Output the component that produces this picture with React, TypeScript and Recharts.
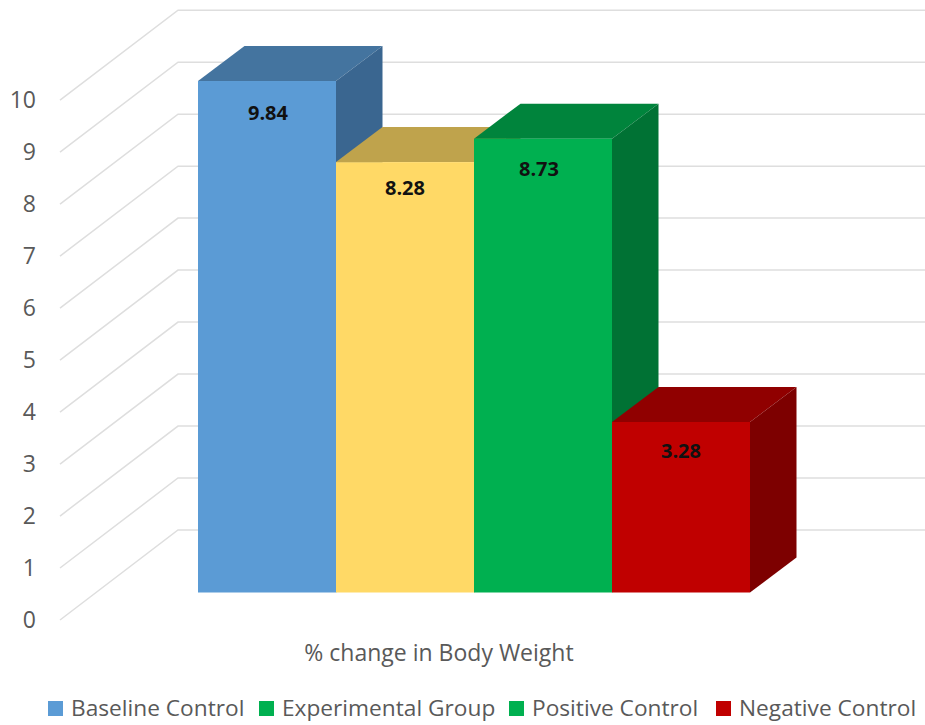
import { Bar, BarChart, CartesianGrid, LabelList, Legend, XAxis, YAxis } from "recharts";

const categoryLabel = "% change in Body Weight";
const seriesKeys = ["baseline", "experimental", "positive", "negative"];
const seriesNames = ["Baseline Control", "Experimental Group", "Positive Control", "Negative Control"];
const seriesValues = [9.84, 8.28, 8.73, 3.28];
const yTicks = [0, 1, 2, 3, 4, 5, 6, 7, 8, 9, 10];

// front, top and side faces of each block
const frontColors = ["#5B9BD5", "#FFD966", "#00B050", "#C00000"];
const topColors = ["#44749F", "#BFA34C", "#00843C", "#900000"];
const sideColors = ["#3A6690", "#A68D42", "#007234", "#7D0000"];
const legendColors = ["#5B9BD5", "#00B050", "#00B050", "#C00000"];

// data labels are not all the same distance below the top edge
const labelDrop = [32, 26, 30, 29];
const labelShift = [1, 0, -4, 0];
const legendLefts = [48, 259, 509, 716];

const FONT = '"Open Sans", sans-serif';
const TEXT = "#595959";
const DEPTH_X = 46.5;
const DEPTH_Y = 35;
const WIDTH = 925;
const HEIGHT = 725;

const row: Record<string, string | number> = { name: categoryLabel };
seriesKeys.forEach((k, i) => {
  row[k] = seriesValues[i];
});
const data = [row];

// extruded block: front rectangle plus top and right faces
function Block({ x, y, width, height, index }: any) {
  const r = x + width;
  const b = y + height;
  const dx = DEPTH_X;
  const dy = DEPTH_Y;
  return (
    <g>
      <polygon points={`${x},${y} ${x + dx},${y - dy} ${r + dx},${y - dy} ${r},${y}`} fill={topColors[index]} />
      <polygon points={`${r},${y} ${r + dx},${y - dy} ${r + dx},${b - dy} ${r},${b}`} fill={sideColors[index]} />
      <rect x={x} y={y} width={width} height={height} fill={frontColors[index]} />
    </g>
  );
}

// wall line: runs up the side wall from the front edge, then across the back wall
function WallLine({ y1 }: any) {
  const pts = `60,${y1 + 27.5} 178,${y1 - 62.5} ${WIDTH},${y1 - 62.5}`;
  return <polyline points={pts} fill="none" stroke="#DEDEDE" strokeWidth={1.5} />;
}

function ValueTick({ y, payload }: any) {
  return (
    <text x={36} y={y + 27.5} dy={8} textAnchor="end" fontFamily={FONT} fontSize={23} fill={TEXT}>
      {payload.value}
    </text>
  );
}

function CategoryTick({ y, payload }: any) {
  return (
    <text x={439} y={y + 60} textAnchor="middle" fontFamily={FONT} fontSize={23} fill={TEXT}>
      {payload.value}
    </text>
  );
}

function LegendRow() {
  return (
    <div style={{ position: "relative", width: WIDTH, height: 30, fontFamily: FONT, fontSize: 22.7, color: TEXT }}>
      {seriesNames.map((name, i) => (
        <div key={name} style={{ position: "absolute", left: legendLefts[i], top: 0, whiteSpace: "nowrap", lineHeight: "28px" }}>
          <span style={{ display: "inline-block", width: 15, height: 15, marginRight: 8, background: legendColors[i] }} />
          {name}
        </div>
      ))}
    </div>
  );
}

function blockLabel(index: number) {
  return ({ x, y, width, value }: any) => (
    <text
      x={x + width / 2 + labelShift[index]}
      y={y + labelDrop[index]}
      dy={7}
      textAnchor="middle"
      fontFamily={FONT}
      fontSize={20}
      fontWeight={700}
      fill="#111"
    >
      {value}
    </text>
  );
}

export default function App() {
  return (
    <div style={{ position: "absolute", left: 0, top: 0, width: WIDTH, height: HEIGHT, background: "#fff" }}>
      <BarChart
        width={WIDTH}
        height={HEIGHT}
        data={data}
        barCategoryGap={0}
        barGap={0}
        margin={{ top: 72.7, right: 176.5, bottom: 92.5, left: 0 }}
      >
        <CartesianGrid vertical={false} horizontal={(p: any) => <WallLine key={p.key} {...p} />} />
        <XAxis dataKey="name" height={40} axisLine={false} tickLine={false} tick={<CategoryTick />} />
        <YAxis width={198} domain={[0, 10]} ticks={yTicks} axisLine={false} tickLine={false} tick={<ValueTick />} />
        <Legend
          layout="horizontal"
          verticalAlign="middle"
          align="center"
          wrapperStyle={{ left: 0, top: 694, width: WIDTH }}
          content={() => <LegendRow />}
        />
        {seriesKeys.map((k, i) => (
          <Bar
            key={k}
            dataKey={k}
            name={seriesNames[i]}
            fill={frontColors[i]}
            isAnimationActive={false}
            shape={(p: any) => <Block {...p} index={i} />}
          >
            <LabelList dataKey={k} content={blockLabel(i)} />
          </Bar>
        ))}
      </BarChart>
    </div>
  );
}
